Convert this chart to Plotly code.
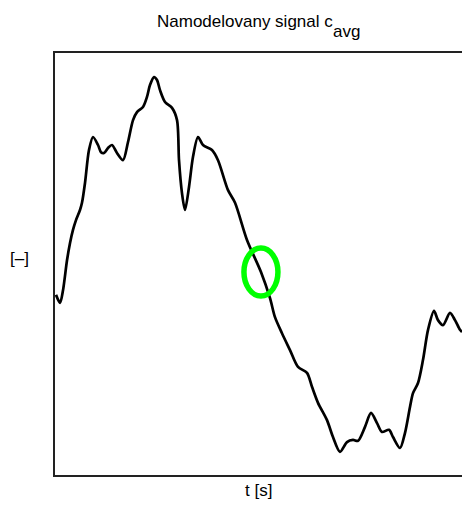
import plotly.graph_objects as go

# time axis [s]
t = [0.025, 0.123, 0.197, 0.295, 0.369, 0.442, 0.516, 0.614, 0.663, 0.737,
     0.835, 0.934, 1.057, 1.130, 1.204, 1.302, 1.400, 1.523, 1.671, 1.794,
     1.917, 2.015, 2.162, 2.260, 2.334, 2.432, 2.506, 2.580, 2.703, 2.875,
     2.998, 3.047, 3.120, 3.194, 3.292, 3.391, 3.514, 3.636, 3.857, 4.005,
     4.251, 4.423, 4.717, 5.061, 5.283, 5.405, 5.577, 5.774, 5.971, 6.192,
     6.314, 6.462, 6.683, 6.830, 7.002, 7.174, 7.322, 7.445, 7.617, 7.764,
     7.912, 8.034, 8.206, 8.305, 8.477, 8.600, 8.722, 8.796, 8.919, 9.042,
     9.165, 9.312, 9.410, 9.533, 9.705, 9.828, 9.951, 10.0]

# modelled signal c_avg [-]
c_avg = [0.427, 0.408, 0.438, 0.509, 0.550, 0.581, 0.604, 0.628, 0.645, 0.692,
         0.770, 0.801, 0.782, 0.765, 0.763, 0.775, 0.782, 0.763, 0.746, 0.789,
         0.841, 0.860, 0.872, 0.896, 0.924, 0.943, 0.936, 0.912, 0.884, 0.870,
         0.841, 0.746, 0.668, 0.628, 0.682, 0.754, 0.801, 0.782, 0.770, 0.746,
         0.675, 0.645, 0.557, 0.481, 0.419, 0.374, 0.336, 0.296, 0.256, 0.242,
         0.209, 0.171, 0.130, 0.090, 0.055, 0.078, 0.083, 0.081, 0.114, 0.147,
         0.123, 0.102, 0.107, 0.090, 0.064, 0.100, 0.161, 0.194, 0.218, 0.273,
         0.344, 0.389, 0.367, 0.355, 0.384, 0.367, 0.344, 0.339]

# highlighted point
mark_t = [5.06]
mark_c = [0.481]

title_main = "Namodelovany signal c"
title_sub = "avg"
x_label = "t [s]"
y_label = "[–]"

FONT = "Liberation Sans, Arial, sans-serif"

fig = go.Figure()
fig.add_trace(go.Scatter(
    x=t, y=c_avg, mode="lines",
    line=dict(color="black", width=2.7, shape="spline", smoothing=0.8),
    hoverinfo="skip", showlegend=False,
))

fig.add_shape(
    type="circle", xref="x", yref="y",
    xsizemode="pixel", ysizemode="pixel",
    xanchor=mark_t[0], yanchor=mark_c[0],
    x0=-17, x1=17, y0=-24, y1=24,
    line=dict(color="#00FF00", width=5.5), layer="above",
)

annos = [
    dict(text=title_main, x=0.684, y=1.0735, xanchor="right", yanchor="middle"),
    dict(text=title_sub, x=0.684, y=1.0498, xanchor="left", yanchor="middle"),
    dict(text=x_label, x=0.501, y=-0.0367, xanchor="center", yanchor="middle"),
    dict(text=y_label, x=-0.0872, y=0.513, xanchor="center", yanchor="middle"),
]
for a in annos:
    fig.add_annotation(xref="paper", yref="paper", showarrow=False,
                       borderpad=0, borderwidth=0,
                       font=dict(family=FONT, size=17, color="black"), **a)

fig.update_layout(
    width=462, height=506,
    margin=dict(l=55, r=0, t=53, b=31),
    paper_bgcolor="white", plot_bgcolor="white",
    showlegend=False, hovermode=False,
    font=dict(family=FONT, size=17, color="black"),
)
fig.update_xaxes(range=[0, 10], showgrid=False, zeroline=False,
                 showticklabels=False, ticks="",
                 showline=True, mirror=True, linecolor="#222222", linewidth=2)
fig.update_yaxes(range=[0, 1], showgrid=False, zeroline=False,
                 showticklabels=False, ticks="",
                 showline=True, mirror=False, linecolor="#222222", linewidth=2)

fig.write_html(
    "out.html",
    config={"displayModeBar": False},
    post_script="document.body.style.margin='0';document.body.style.overflow='hidden';",
)
